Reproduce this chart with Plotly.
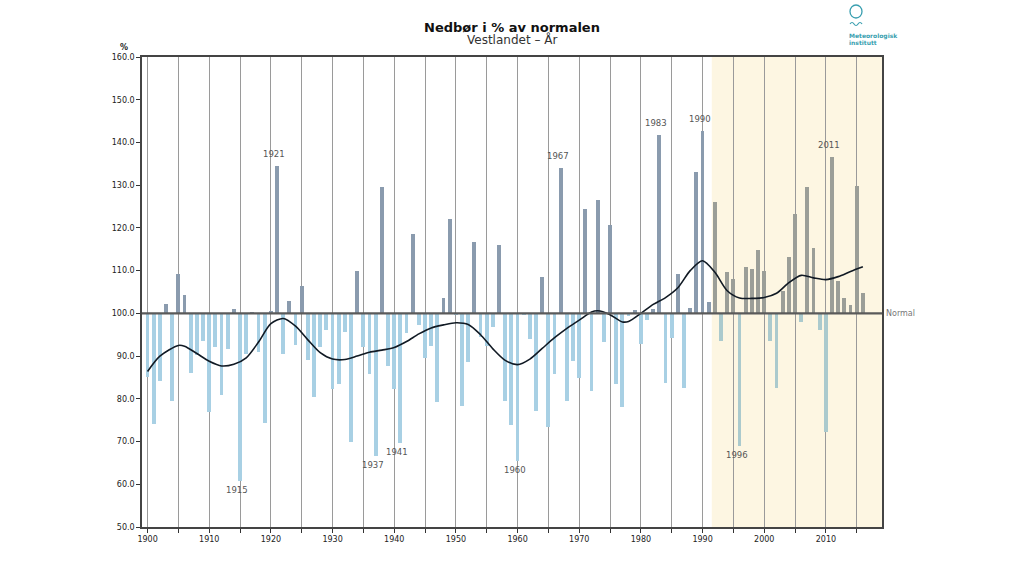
import plotly.graph_objects as go

# ---------------- data ----------------
years = list(range(1900, 2017))
values = [
    85.2, 74.0, 84.2, 102.1, 79.5, 109.3, 104.3, 86.0, 90.3, 93.5,   # 1900-1909
    76.8, 92.1, 80.9, 91.7, 101.1, 60.8, 90.5, 100.4, 91.0, 74.4,    # 1910-1919
    100.5, 134.6, 90.5, 102.9, 92.5, 106.4, 89.2, 80.4, 92.1, 96.0,  # 1920-1929
    82.2, 83.4, 95.6, 69.8, 109.8, 92.1, 85.8, 66.6, 129.5, 87.7,    # 1930-1939
    82.2, 69.6, 95.3, 118.5, 97.3, 89.6, 92.3, 79.3, 103.5, 122.0,   # 1940-1949
    99.6, 78.3, 88.6, 116.7, 94.5, 92.3, 96.7, 116.0, 79.6, 73.8,    # 1950-1959
    65.4, 99.7, 94.0, 77.1, 108.4, 73.4, 85.8, 134.0, 79.5, 88.8,    # 1960-1969
    84.8, 124.5, 81.9, 126.5, 93.2, 120.7, 83.4, 78.2, 99.4, 100.7,  # 1970-1979
    92.9, 98.4, 101.1, 141.8, 83.7, 94.3, 109.2, 82.6, 101.3, 133.2, # 1980-1989
    142.7, 102.7, 126.1, 93.6, 109.6, 108.0, 69.0, 110.8, 110.4, 114.8, # 1990-1999
    110.0, 93.5, 82.5, 105.3, 113.1, 123.2, 98.0, 129.6, 115.4, 96.2,  # 2000-2009
    72.3, 136.7, 107.6, 103.5, 102.0, 129.8, 104.7,                    # 2010-2016
]

smooth_years = [1900, 1902, 1905, 1906, 1908, 1910, 1912, 1914, 1916, 1918,
                1920, 1922, 1924, 1926, 1928, 1930, 1932, 1934, 1936, 1938,
                1940, 1942, 1944, 1946, 1948, 1950, 1952, 1954, 1956, 1958,
                1960, 1962, 1964, 1966, 1968, 1970, 1972, 1973, 1975, 1977,
                1978, 1980, 1982, 1984, 1986, 1988, 1990, 1992, 1994, 1996,
                1998, 2000, 2002, 2004, 2006, 2008, 2010, 2012, 2014, 2016]
smooth_values = [86.4, 90.0, 92.5, 92.3, 90.6, 88.8, 87.7, 88.1, 89.6, 93.3,
                 97.6, 98.8, 97.0, 93.8, 90.8, 89.3, 89.2, 90.0, 90.9, 91.4,
                 92.0, 93.4, 95.2, 96.6, 97.3, 97.8, 97.4, 95.0, 91.7, 89.0,
                 88.0, 89.3, 91.8, 94.3, 96.5, 98.4, 100.3, 100.6, 99.7, 98.0,
                 98.1, 100.0, 102.1, 103.7, 106.0, 110.0, 112.3, 109.6, 105.3, 103.6,
                 103.5, 103.7, 104.7, 107.2, 108.9, 108.3, 107.9, 108.6, 109.8, 110.9]

label_years = [1915, 1921, 1937, 1941, 1960, 1967, 1983, 1990, 1996, 2011]

y_ticks = [50, 60, 70, 80, 90, 100, 110, 120, 130, 140, 150, 160]
x_ticks = list(range(1900, 2016, 5))
x_ticktext = [str(y) if y % 10 == 0 else "" for y in x_ticks]

NORMAL = 100
shade_start, shade_end = 1991.5, 2019.1

# ---------------- figure ----------------
def bar_color(yr, v):
    in_shade = yr > shade_start
    if v >= NORMAL:
        return "#9b9e98" if in_shade else "#8a9bae"
    return "#abcacd" if in_shade else "#a8d0e4"

colors = [bar_color(yr, v) for yr, v in zip(years, values)]

fig = go.Figure()
fig.add_trace(go.Bar(
    x=years, y=[v - NORMAL for v in values], base=NORMAL,
    marker=dict(color=colors, line=dict(width=0)),
    width=0.62, showlegend=False, hoverinfo="skip",
))
fig.add_trace(go.Scatter(
    x=smooth_years, y=smooth_values, mode="lines",
    line=dict(color="#111a24", width=1.6, shape="spline", smoothing=0.8),
    showlegend=False, hoverinfo="skip",
))

shapes = [
    # shaded normal period
    dict(type="rect", xref="x", x0=shade_start, x1=shade_end, yref="paper", y0=0, y1=1,
         fillcolor="#fdf6e2", line=dict(width=0), layer="below"),
    # normal line
    dict(type="line", xref="paper", x0=0, x1=1, yref="y", y0=NORMAL, y1=NORMAL,
         line=dict(color="#5a5a5a", width=2.2), layer="above"),
]

annotations = []
for yr in label_years:
    v = values[yr - 1900]
    up = v >= NORMAL
    annotations.append(dict(x=yr, y=v, xref="x", yref="y", text=str(yr),
                            showarrow=False, yanchor="bottom" if up else "top",
                            yshift=5 if up else -2, xshift=-3,
                            font=dict(family="DejaVu Sans", size=8.5, color="#555")))

PH = 470.0
def py(p):
    return (527 - p) / PH
def px(p):
    return (p - 142) / 740.0

annotations += [
    dict(x=0.5, y=py(27), xref="paper", yref="paper", text="<b>Nedbør i % av normalen</b>",
         yanchor="middle", showarrow=False, font=dict(family="DejaVu Sans", size=13, color="#111")),
    dict(x=0.5, y=py(40), xref="paper", yref="paper", text="Vestlandet – År",
         yanchor="middle", showarrow=False, font=dict(family="DejaVu Sans", size=12, color="#333")),
    dict(x=px(118), y=py(48), xref="paper", yref="paper", text="<b>%</b>",
         yanchor="middle", showarrow=False, font=dict(family="DejaVu Sans", size=8, color="#222")),
    dict(x=1, y=NORMAL, xref="paper", yref="y", text="Normal", xanchor="left", xshift=2,
         yanchor="middle", showarrow=False, font=dict(family="DejaVu Sans", size=8, color="#777")),
    dict(x=px(847), y=py(36), xref="paper", yref="paper", text="<b>Meteorologisk</b>",
         xanchor="left", yanchor="middle", showarrow=False,
         font=dict(family="DejaVu Sans", size=6, color="#3a9fb0")),
    dict(x=px(847), y=py(42), xref="paper", yref="paper", text="<b>institutt</b>",
         xanchor="left", yanchor="middle", showarrow=False,
         font=dict(family="DejaVu Sans", size=6, color="#3a9fb0")),
]

# logo circle + wave
shapes.append(dict(type="circle", xref="paper", yref="paper",
                   x0=px(850), x1=px(862), y0=py(18), y1=py(5),
                   line=dict(color="#3a9fb0", width=1.3)))
wave = "M {:.4f},{:.4f} Q {:.4f},{:.4f} {:.4f},{:.4f} T {:.4f},{:.4f} T {:.4f},{:.4f}".format(
    px(850), py(24), px(852), py(21), px(854), py(24), px(858), py(24), px(862), py(24))
shapes.append(dict(type="path", xref="paper", yref="paper", path=wave,
                   line=dict(color="#3a9fb0", width=1.2)))

fig.update_layout(
    width=1024, height=576,
    margin=dict(l=142, r=142, t=57, b=49),
    paper_bgcolor="white", plot_bgcolor="white",
    bargap=0,
    shapes=shapes, annotations=annotations,
    xaxis=dict(range=[1899.1, 2019.1], tickmode="array", tickvals=x_ticks, ticktext=x_ticktext,
               showgrid=True, gridcolor="#9a9a9a", gridwidth=1,
               ticks="outside", ticklen=4, tickcolor="#333",
               showline=True, linecolor="#444", linewidth=1.5, mirror=True,
               zeroline=False,
               tickfont=dict(family="DejaVu Sans", size=8, color="#222")),
    yaxis=dict(range=[50, 160], tickmode="array", tickvals=y_ticks,
               tickformat=".1f", showgrid=False,
               ticks="outside", ticklen=4, tickcolor="#333",
               showline=True, linecolor="#444", linewidth=1.5, mirror=True,
               zeroline=False,
               tickfont=dict(family="DejaVu Sans", size=8, color="#222")),
)

fig.write_html("out.html")
